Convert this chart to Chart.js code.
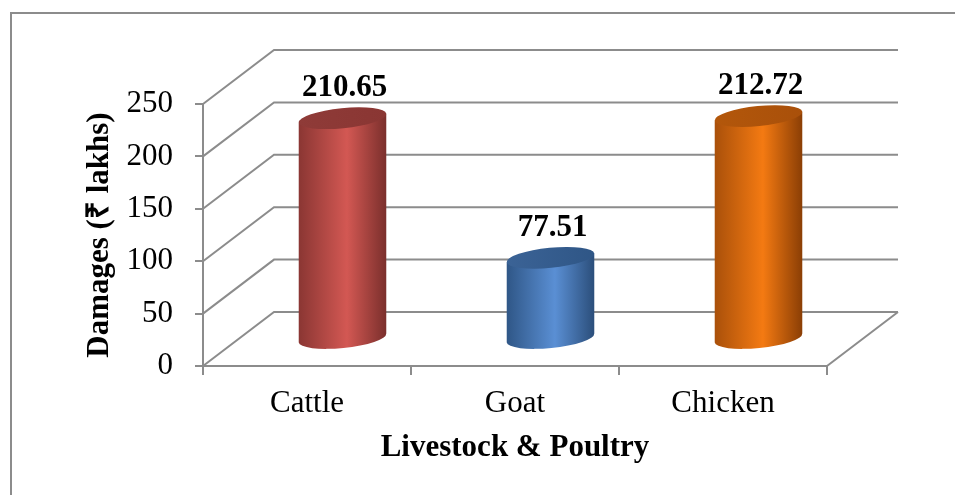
<!DOCTYPE html>
<html>
<head>
<meta charset="utf-8">
<script src="https://cdn.jsdelivr.net/npm/chart.js@4.4.1/dist/chart.umd.min.js"></script>
<style>
  html, body { margin: 0; padding: 0; background: #fff; }
  #wrap { width: 955px; height: 495px; }
</style>
</head>
<body>
<div id="wrap"><canvas id="damageChart" width="955" height="495"></canvas></div>
<script>
/* livestock & poultry damages - 3d cylinder column chart */

const categories = ['Cattle', 'Goat', 'Chicken'];
const damages = [210.65, 77.51, 212.72];
const yTicks = [0, 50, 100, 150, 200, 250];

// colours for each cylinder: edge shade, highlight, far edge, cap
const cylShades = [
  { dark: '#8a3633', light: '#d35853', edge: '#7a2f2c', cap: '#8f3b38' },
  { dark: '#2f5686', light: '#5a8fd4', edge: '#2b4e7a', cap: '#3b6396' },
  { dark: '#a9500a', light: '#f47a12', edge: '#8a3e05', cap: '#b3570b' }
];

const GRID = '#8c8c8c';
const SERIF = '"Liberation Serif", "Times New Roman", Times, serif';
const DEPTH = { dx: 71, dy: -54 };

// white background + outer frame
const framePlugin = {
  id: 'frame',
  beforeDraw(chart) {
    const ctx = chart.ctx;
    ctx.save();
    ctx.fillStyle = '#fff';
    ctx.fillRect(0, 0, chart.width, chart.height);
    ctx.strokeStyle = GRID;
    ctx.lineWidth = 2;
    ctx.strokeRect(11, 13, chart.width + 20, chart.height + 20);
    ctx.restore();
  }
};

// back wall, side wall and floor lines of the 3d box
const wallsPlugin = {
  id: 'walls',
  beforeDatasetsDraw(chart) {
    const { ctx, chartArea: a, scales: { y } } = chart;
    const { dx, dy } = DEPTH;
    ctx.save();
    ctx.strokeStyle = GRID;
    ctx.lineWidth = 2;
    ctx.beginPath();
    yTicks.forEach(v => {
      const py = y.getPixelForValue(v);
      ctx.moveTo(a.left, py);
      ctx.lineTo(a.left + dx, py + dy);
      ctx.lineTo(a.right + dx, py + dy);
    });
    // floor right edge
    const y0 = y.getPixelForValue(0);
    ctx.moveTo(a.right, y0);
    ctx.lineTo(a.right + dx, y0 + dy);
    ctx.stroke();
    ctx.restore();
  }
};

// cylinders + value labels, placed from the bar elements
const cylinderPlugin = {
  id: 'cylinders',
  afterDatasetsDraw(chart) {
    const ctx = chart.ctx;
    const meta = chart.getDatasetMeta(0);
    const { dx, dy } = DEPTH;
    const ry = 10, rot = -0.1;
    meta.data.forEach((bar, i) => {
      const c = cylShades[i];
      const rx = bar.width / 2;
      const cx = bar.x + dx / 2;
      const topY = bar.y + dy / 2;
      const baseY = bar.base + dy / 2;
      const ex = rx * Math.cos(rot), ey = rx * Math.sin(rot);

      ctx.save();
      const g = ctx.createLinearGradient(cx - rx, 0, cx + rx, 0);
      g.addColorStop(0, c.dark);
      g.addColorStop(0.55, c.light);
      g.addColorStop(1, c.edge);
      ctx.fillStyle = g;
      ctx.beginPath();
      ctx.moveTo(cx + ex, topY + ey);
      ctx.lineTo(cx + ex, baseY + ey);
      ctx.ellipse(cx, baseY, rx, ry, rot, 0, Math.PI);
      ctx.lineTo(cx - ex, topY - ey);
      ctx.closePath();
      ctx.fill();

      const cg = ctx.createLinearGradient(cx - rx, 0, cx + rx, 0);
      cg.addColorStop(0, c.cap);
      cg.addColorStop(1, c.dark);
      ctx.fillStyle = cg;
      ctx.beginPath();
      ctx.ellipse(cx, topY, rx, ry, rot, 0, Math.PI * 2);
      ctx.fill();

      ctx.fillStyle = '#000';
      ctx.font = 'bold 31px ' + SERIF;
      ctx.textAlign = 'center';
      ctx.textBaseline = 'alphabetic';
      ctx.fillText(damages[i].toFixed(2), cx + 2, topY - 22);
      ctx.restore();
    });
  }
};

const ctx = document.getElementById('damageChart').getContext('2d');
new Chart(ctx, {
  type: 'bar',
  data: {
    labels: categories,
    datasets: [{
      label: 'Damages',
      data: damages,
      backgroundColor: 'rgba(0,0,0,0)',
      borderWidth: 0,
      barPercentage: 0.423,
      categoryPercentage: 1
    }]
  },
  options: {
    responsive: false,
    animation: false,
    devicePixelRatio: 1,
    layout: { padding: { left: 81, right: 128, top: 104, bottom: 28 } },
    plugins: { legend: { display: false }, tooltip: { enabled: false } },
    scales: {
      x: {
        grid: { offset: true, drawOnChartArea: false, drawTicks: true, tickLength: 9, color: GRID, lineWidth: 2 },
        border: { display: true, color: GRID, width: 2 },
        ticks: { color: '#000', font: { family: SERIF, size: 31 }, padding: 10, maxRotation: 0 },
        title: { display: true, text: 'Livestock & Poultry', color: '#000', font: { family: SERIF, size: 31, weight: 'bold' }, padding: 0 },
        afterFit(s) { s.height = 101; }
      },
      y: {
        min: 0,
        max: 250,
        afterBuildTicks(s) { s.ticks = yTicks.map(v => ({ value: v })); },
        grid: { drawOnChartArea: false, drawTicks: true, tickLength: 8, color: GRID, lineWidth: 2 },
        border: { display: true, color: GRID, width: 2 },
        ticks: { color: '#000', font: { family: SERIF, size: 31 }, padding: 22 },
        title: { display: true, text: 'Damages (₹ lakhs)', color: '#000', font: { family: SERIF, size: 31, weight: 'bold' }, padding: 0 },
        afterFit(s) { s.width = 122; }
      }
    }
  },
  plugins: [framePlugin, wallsPlugin, cylinderPlugin]
});
</script>
</body>
</html>
